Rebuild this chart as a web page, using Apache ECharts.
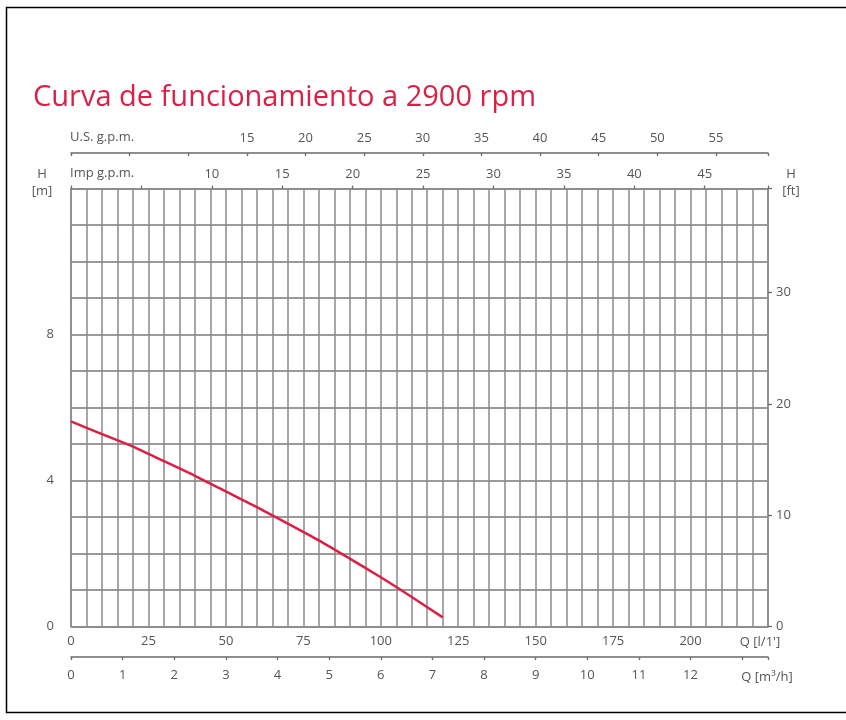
<!DOCTYPE html>
<html>
<head>
<meta charset="utf-8">
<title>Curva de funcionamiento a 2900 rpm</title>
<script src="https://cdn.jsdelivr.net/npm/echarts@6/dist/echarts.min.js"></script>
<style>
  html, body { margin: 0; padding: 0; background: #fff; }
  #chart { width: 846px; height: 720px; }
</style>
</head>
<body>
<div id="chart"></div>
<script>
// Pump performance curve: flow Q [l/min] vs head H [m]
const flowLpm = [0, 10, 20, 30, 40, 50, 60, 70, 80, 90, 100, 110, 120];
const headM   = [5.62, 5.27, 4.93, 4.53, 4.13, 3.70, 3.27, 2.82, 2.36, 1.86, 1.35, 0.81, 0.25];

// Axis ranges and unit conversions
const qMaxLpm = 225;           // l/min
const hMaxM = 12;              // m
const LPM_PER_M3H = 1000 / 60; // l/min per m3/h
const LPM_PER_IMP = 4.54609;   // l/min per Imp g.p.m.
const LPM_PER_US = 3.78541;    // l/min per U.S. g.p.m.
const FT_PER_M = 3.28084;

// Tick labels shown on each scale
const lpmLabels = [0, 25, 50, 75, 100, 125, 150, 175, 200];
const m3hLabels = [0, 1, 2, 3, 4, 5, 6, 7, 8, 9, 10, 11, 12];
const impLabels = [10, 15, 20, 25, 30, 35, 40, 45];
const usLabels  = [15, 20, 25, 30, 35, 40, 45, 50, 55];
const mLabels   = [0, 4, 8];
const ftLabels  = [0, 10, 20, 30];

const RED = '#dc1f45';
const TXT = '#555555';
const FONT = 'Open Sans';
const gridLine = { color: '#8a8a8a', width: 1.5 };
const tickLine = { color: '#6a6a6a', width: 1.3 };

function pick(list) {
  return v => (list.some(x => Math.abs(x - v) < 1e-6) ? String(v) : '');
}

const chart = echarts.init(document.getElementById('chart'), null, { renderer: 'canvas' });

const labelBase = { color: TXT, fontFamily: FONT, fontSize: 13 };

chart.setOption({
  animation: false,
  backgroundColor: '#ffffff',
  grid: { left: 71, right: 78, top: 188.5, bottom: 93.5, containLabel: false },
  xAxis: [
    { // l/min, bottom
      type: 'value', position: 'bottom', min: 0, max: qMaxLpm, interval: 5,
      axisLine: { show: true, onZero: false, lineStyle: gridLine },
      axisTick: { show: false },
      axisLabel: Object.assign({ margin: 8, formatter: pick(lpmLabels) }, labelBase),
      splitLine: { show: true, lineStyle: gridLine }
    },
    { // m3/h, bottom (offset)
      type: 'value', position: 'bottom', offset: 30.5,
      min: 0, max: qMaxLpm / LPM_PER_M3H, interval: 1,
      axisLine: { show: true, onZero: false, lineStyle: { color: '#6a6a6a', width: 1.5 } },
      axisTick: { show: true, length: 3, lineStyle: tickLine },
      axisLabel: Object.assign({ margin: 12, formatter: pick(m3hLabels) }, labelBase),
      splitLine: { show: false }
    },
    { // Imp g.p.m., top
      type: 'value', position: 'top',
      min: 0, max: qMaxLpm / LPM_PER_IMP, interval: 5,
      axisLine: { show: true, onZero: false, lineStyle: gridLine },
      axisTick: { show: true, length: 3, lineStyle: tickLine },
      axisLabel: Object.assign({ margin: 8, formatter: pick(impLabels) }, labelBase),
      splitLine: { show: false }
    },
    { // U.S. g.p.m., top (offset)
      type: 'value', position: 'top', offset: 35.5,
      min: 0, max: qMaxLpm / LPM_PER_US, interval: 5,
      axisLine: { show: true, onZero: false, lineStyle: { color: '#6a6a6a', width: 1.5 } },
      axisTick: { show: true, length: 3, inside: true, lineStyle: tickLine },
      axisLabel: Object.assign({ margin: 8, formatter: pick(usLabels) }, labelBase),
      splitLine: { show: false }
    }
  ],
  yAxis: [
    { // H [m], left
      type: 'value', position: 'left', min: 0, max: hMaxM, interval: 1,
      axisLine: { show: true, onZero: false, lineStyle: gridLine },
      axisTick: { show: false },
      axisLabel: Object.assign({ margin: 17, formatter: pick(mLabels) }, labelBase),
      splitLine: { show: true, lineStyle: { color: '#7a7a7a', width: 1.5 } }
    },
    { // H [ft], right
      type: 'value', position: 'right', min: 0, max: hMaxM * FT_PER_M, interval: 10,
      axisLine: { show: true, onZero: false, lineStyle: gridLine },
      axisTick: { show: true, length: 4, lineStyle: tickLine },
      axisLabel: Object.assign({ margin: 8, formatter: pick(ftLabels) }, labelBase),
      splitLine: { show: false }
    }
  ],
  series: [
    {
      type: 'line',
      xAxisIndex: 0, yAxisIndex: 0,
      data: flowLpm.map((q, i) => [q, headM[i]]),
      showSymbol: false,
      smooth: 0.2,
      lineStyle: { color: RED, width: 2.5 },
      z: 10
    }
  ],
  graphic: [
    { type: 'rect', shape: { x: 6.5, y: 7.5, width: 860, height: 705 },
      style: { fill: 'none', stroke: '#000', lineWidth: 1.5 }, silent: true },
    { type: 'text', x: 33, y: 98,
      style: { text: 'Curva de funcionamiento a 2900 rpm', fill: RED, font: '29px "Open Sans"', verticalAlign: 'middle' } },
    { type: 'text', x: 70, y: 137,
      style: { text: 'U.S. g.p.m.', fill: TXT, font: '13px "Open Sans"', verticalAlign: 'middle' } },
    { type: 'text', x: 70, y: 173,
      style: { text: 'Imp g.p.m.', fill: TXT, font: '13px "Open Sans"', verticalAlign: 'middle' } },
    { type: 'text', x: 42, y: 174,
      style: { text: 'H', fill: TXT, font: '13px "Open Sans"', align: 'center', verticalAlign: 'middle' } },
    { type: 'text', x: 42, y: 191,
      style: { text: '[m]', fill: TXT, font: '13px "Open Sans"', align: 'center', verticalAlign: 'middle' } },
    { type: 'text', x: 791, y: 174,
      style: { text: 'H', fill: TXT, font: '13px "Open Sans"', align: 'center', verticalAlign: 'middle' } },
    { type: 'text', x: 791, y: 191,
      style: { text: '[ft]', fill: TXT, font: '13px "Open Sans"', align: 'center', verticalAlign: 'middle' } },
    { type: 'text', x: 760, y: 642,
      style: { text: "Q [l/1']", fill: TXT, font: '13px "Open Sans"', align: 'center', verticalAlign: 'middle' } },
    { type: 'text', x: 767, y: 677,
      style: { text: 'Q [m³/h]', fill: TXT, font: '13px "Open Sans"', align: 'center', verticalAlign: 'middle' } }
  ]
});
</script>
</body>
</html>
